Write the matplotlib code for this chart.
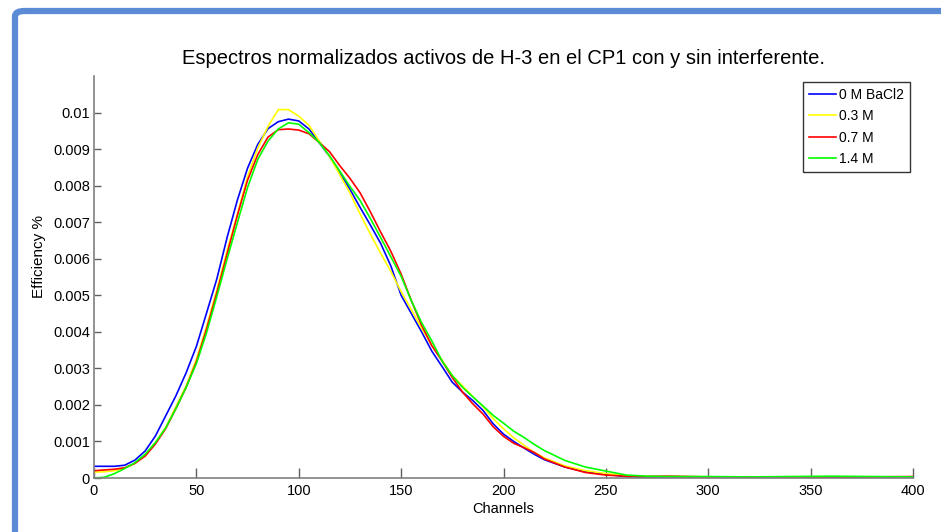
import numpy as np
import matplotlib
matplotlib.use("Agg")
import matplotlib.pyplot as plt
from matplotlib.patches import FancyBboxPatch

plt.rcParams['font.family'] = ['Liberation Sans', 'DejaVu Sans']

# channel positions
channels = [0, 5, 10, 15, 20, 25, 30, 35, 40, 45, 50, 55, 60, 65, 70, 75, 80, 85,
            90, 95, 100, 105, 110, 115, 120, 125, 130, 135, 140, 145, 150, 155,
            160, 165, 170, 175, 180, 185, 190, 195, 200, 205, 210, 215, 220, 230,
            240, 250, 260, 270, 280, 300, 320, 340, 360, 380, 400]

eff_0M = [0.00032, 0.00032, 0.00032, 0.00035, 0.00049, 0.00074, 0.00115, 0.0017,
          0.00225, 0.00288, 0.0036, 0.00452, 0.00545, 0.00658, 0.0076, 0.00848,
          0.00913, 0.00956, 0.00975, 0.00982, 0.00977, 0.00955, 0.00918, 0.0088,
          0.00835, 0.0079, 0.0074, 0.00692, 0.00642, 0.0058, 0.005, 0.0045,
          0.004, 0.00347, 0.00305, 0.00262, 0.00235, 0.00212, 0.00185, 0.00148,
          0.0012, 0.001, 0.00082, 0.00065, 0.0005, 0.0003, 0.00017, 0.0001,
          0.00004, 0.00002, 0.00002, 0.00002, 0.00001, 0.00001, 0.00001, 0.00001,
          0.00001]

eff_03M = [0.00016, 0.00017, 0.0002, 0.00027, 0.0004, 0.00062, 0.00097, 0.00138,
           0.00195, 0.00252, 0.00325, 0.00415, 0.00515, 0.00622, 0.00722, 0.00825,
           0.00903, 0.00962, 0.01008, 0.01008, 0.0099, 0.00965, 0.00922, 0.0088,
           0.0083, 0.0078, 0.00722, 0.00667, 0.00615, 0.00565, 0.0051, 0.0046,
           0.0041, 0.00363, 0.00322, 0.0028, 0.00252, 0.00223, 0.00195, 0.00162,
           0.00135, 0.0011, 0.0009, 0.0007, 0.00055, 0.00033, 0.0002, 0.00012,
           0.00006, 0.00004, 0.00004, 0.00003, 0.00002, 0.00002, 0.00003, 0.00003,
           0.00002]

eff_07M = [0.0002, 0.00022, 0.00024, 0.00028, 0.0004, 0.0006, 0.00093, 0.00135,
           0.0019, 0.00248, 0.00318, 0.00408, 0.00507, 0.00613, 0.00718, 0.00815,
           0.00885, 0.00933, 0.00953, 0.00955, 0.00952, 0.00942, 0.00918, 0.00893,
           0.00855, 0.0082, 0.0078, 0.00728, 0.00673, 0.0062, 0.00558, 0.00485,
           0.00418, 0.00362, 0.0032, 0.00275, 0.00235, 0.00203, 0.00175, 0.0014,
           0.00114, 0.00095, 0.00083, 0.0007, 0.00052, 0.0003, 0.00015, 0.00008,
           0.00005, 0.00004, 0.00005, 0.00003, 0.00003, 0.00003, 0.00002, 0.00003,
           0.00004]

eff_14M = [0.0, 0.00002, 0.00012, 0.00026, 0.00042, 0.00065, 0.00097, 0.00137,
           0.0019, 0.00248, 0.00313, 0.00398, 0.00497, 0.00599, 0.00698, 0.00795,
           0.00872, 0.00922, 0.00955, 0.00972, 0.00968, 0.00945, 0.00918, 0.00882,
           0.0084, 0.00798, 0.00759, 0.0071, 0.00658, 0.00605, 0.00552, 0.00485,
           0.00425, 0.00375, 0.0032, 0.0028, 0.00248, 0.00222, 0.00197, 0.00171,
           0.0015, 0.00128, 0.00111, 0.00092, 0.00075, 0.00048, 0.0003, 0.00019,
           0.00008, 0.00005, 0.00004, 0.00004, 0.00003, 0.00004, 0.00005, 0.00004,
           0.00003]

labels = ["0 M BaCl2", "0.3 M", "0.7 M", "1.4 M"]
colors = ["#0000ff", "#ffff00", "#ff0000", "#00ff00"]
x_ticks = [0, 50, 100, 150, 200, 250, 300, 350, 400]
y_ticks = [0, 0.001, 0.002, 0.003, 0.004, 0.005, 0.006, 0.007, 0.008, 0.009, 0.01]
y_ticklabels = ["0", "0.001", "0.002", "0.003", "0.004", "0.005", "0.006",
                "0.007", "0.008", "0.009", "0.01"]

fig = plt.figure(figsize=(9.41, 5.32), dpi=100)
ax = fig.add_axes([94 / 941, 1 - 478 / 532, (913 - 94) / 941, (478 - 76) / 532])

for y, lab, c in zip([eff_0M, eff_03M, eff_07M, eff_14M], labels, colors):
    ax.plot(channels, y, color=c, lw=1.2, label=lab)

ax.set_xlim(0, 400)
ax.set_ylim(0, 0.011)
ax.set_xticks(x_ticks)
ax.set_yticks(y_ticks)
ax.set_yticklabels(y_ticklabels)

for s in ["top", "right"]:
    ax.spines[s].set_visible(False)
for s in ["left", "bottom"]:
    ax.spines[s].set_color("#808080")
    ax.spines[s].set_linewidth(1.2)
ax.tick_params(axis="x", direction="in", length=7, width=1, color="#606060",
               labelsize=10.5, pad=4.5)
ax.tick_params(axis="y", direction="in", length=5, width=1, color="#606060",
               labelsize=10.5, pad=3)

ax.set_xlabel("Channels", fontsize=10.5, labelpad=3)
ax.set_ylabel("Efficiency %", fontsize=11)
ax.yaxis.set_label_coords(-0.058, 0.55)
ax.set_title("Espectros normalizados activos de H-3 en el CP1 con y sin interferente.",
             fontsize=14.5, pad=8.5)

leg = ax.legend(loc="upper right", bbox_to_anchor=(910 / 941, 1 - 82 / 532),
                bbox_transform=fig.transFigure, fontsize=10, frameon=True,
                fancybox=False, edgecolor="black", handlelength=2.0,
                handletextpad=0.2, borderpad=0.42, labelspacing=0.53,
                borderaxespad=0)
leg.get_frame().set_linewidth(1.0)

# blue frame on the left and top edge
frame = FancyBboxPatch((15 / 941, -0.2), 1.2, 1.2 - 11 / 532,
                       boxstyle="round,pad=0,rounding_size=0.01",
                       transform=fig.transFigure, facecolor="none",
                       edgecolor="#5a8bd4", linewidth=4.5)
fig.patches.append(frame)

fig.savefig("out.png", dpi=100)
